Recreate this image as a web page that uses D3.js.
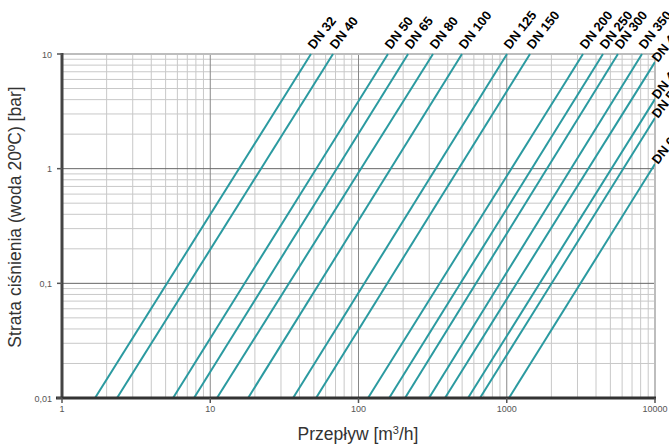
<!DOCTYPE html>
<html><head><meta charset="utf-8">
<script src="https://cdn.jsdelivr.net/npm/d3@7"></script>
<style>body{margin:0;background:#fff}svg{display:block}</style>
</head><body>
<script>
const labels = ["DN 32","DN 40","DN 50","DN 65","DN 80","DN 100","DN 125","DN 150","DN 200","DN 250","DN 300","DN 350","DN 400","DN 450","DN 500","DN 600"];
// flow at 0.01 bar (line start)
const qStart = [1.67,2.35,5.61,7.77,11.1,18.0,36.2,51.7,116,161,206,299,383,548,660,1035];
// line end: flow and pressure loss
const qEnd = [47.8,67.3,158,216,318,499,1004,1435,3268,4458,5623,8170,10000,10000,10000,10000];
const pEnd = [10,10,10,10,10,10,10,10,10,10,10,10,8.5,4.05,2.77,1.1];
const xTicks = [1,10,100,1000,10000];
const xTickLabels = ["1","10","100","1000","10000"];
const yTicks = [0.01,0.1,1,10];
const yTickLabels = ["0,01","0,1","1","10"];

const W=669,H=445;
const FONT="Liberation Sans, Arial, sans-serif";
const svg=d3.select("body").append("svg").attr("width",W).attr("height",H);
const x=d3.scaleLog().domain([1,10000]).range([62,655]);
const y=d3.scaleLog().domain([0.01,10]).range([398,54]);

// grid
const minorX=[],minorY=[];
for(let d=1;d<10000;d*=10) for(let k=2;k<=9;k++) minorX.push(d*k);
for(let d=0.01;d<10;d*=10) for(let k=2;k<=9;k++) minorY.push(+(d*k).toPrecision(3));
const g=svg.append("g");
g.selectAll(".mx").data(minorX).join("line").attr("x1",d=>x(d)).attr("x2",d=>x(d)).attr("y1",54).attr("y2",398).attr("stroke","#c8c8c8").attr("stroke-width",1);
g.selectAll(".my").data(minorY).join("line").attr("y1",d=>y(d)).attr("y2",d=>y(d)).attr("x1",62).attr("x2",655).attr("stroke","#c8c8c8").attr("stroke-width",1);
g.selectAll(".MX").data(xTicks.slice(1,-1)).join("line").attr("x1",d=>x(d)).attr("x2",d=>x(d)).attr("y1",54).attr("y2",398).attr("stroke","#888").attr("stroke-width",1);
g.selectAll(".MY").data(yTicks.slice(1,-1)).join("line").attr("y1",d=>y(d)).attr("y2",d=>y(d)).attr("x1",62).attr("x2",655).attr("stroke","#666").attr("stroke-width",1);
// frame
g.append("line").attr("x1",62).attr("x2",655).attr("y1",y(10)).attr("y2",y(10)).attr("stroke","#bdbdbd").attr("stroke-width",2);
g.append("line").attr("x1",655).attr("x2",655).attr("y1",54).attr("y2",398).attr("stroke","#bdbdbd").attr("stroke-width",2);

// data lines
svg.append("clipPath").attr("id","c").append("rect").attr("x",62).attr("y",53).attr("width",593).attr("height",346);
svg.append("g").attr("clip-path","url(#c)").selectAll("line.s").data(labels).join("line")
  .attr("x1",(d,i)=>x(qStart[i])).attr("y1",y(0.01))
  .attr("x2",(d,i)=>x(qEnd[i])).attr("y2",(d,i)=>y(pEnd[i]))
  .attr("stroke","#2b9aa0").attr("stroke-width",2);

// axes lines
svg.append("line").attr("x1",62).attr("x2",62).attr("y1",53).attr("y2",399).attr("stroke","#444").attr("stroke-width",3);
svg.append("line").attr("x1",56).attr("x2",656).attr("y1",398).attr("y2",398).attr("stroke","#333").attr("stroke-width",3);
svg.selectAll(".yt").data(yTicks).join("line").attr("x1",57).attr("x2",62).attr("y1",d=>y(d)).attr("y2",d=>y(d)).attr("stroke","#555").attr("stroke-width",1.5);
svg.selectAll(".xt").data(xTicks).join("line").attr("x1",d=>x(d)).attr("x2",d=>x(d)).attr("y1",398).attr("y2",403).attr("stroke","#555").attr("stroke-width",1.5);

// tick labels
svg.selectAll(".ytl").data(yTicks).join("text").attr("x",52).attr("y",d=>y(d)+3.5)
  .attr("text-anchor","end").attr("font-family",FONT).attr("font-size",9).attr("fill","#555")
  .text((d,i)=>yTickLabels[i]);
svg.selectAll(".xtl").data(xTicks).join("text").attr("x",d=>x(d)).attr("y",412)
  .attr("text-anchor","middle").attr("font-family",FONT).attr("font-size",9).attr("fill","#555")
  .text((d,i)=>xTickLabels[i]);

// axis titles
const xt=svg.append("text").attr("x",358).attr("y",440).attr("text-anchor","middle")
  .attr("font-family",FONT).attr("font-size",17.5).attr("fill","#333");
xt.append("tspan").text("Przepływ  [m");
xt.append("tspan").attr("font-size",11).attr("dy",-6).text("3");
xt.append("tspan").attr("dy",6).text("/h]");
svg.append("text").attr("transform","translate(21,217) rotate(-90)").attr("text-anchor","middle")
  .attr("font-family",FONT).attr("font-size",17.5).attr("fill","#333")
  .text("Strata ciśnienia (woda 20ºC)  [bar]");

// line labels
svg.selectAll(".lab").data(labels).join("text")
  .attr("transform",(d,i)=>{
    const px = pEnd[i]>=10 ? x(qEnd[i])+3 : 658;
    const py = pEnd[i]>=10 ? 50 : y(pEnd[i])+1;
    return `translate(${px},${py}) rotate(-52)`;
  })
  .attr("font-family",FONT).attr("font-size",13).attr("font-weight","bold").attr("fill","#000")
  .text(d=>d);
</script>
</body></html>
